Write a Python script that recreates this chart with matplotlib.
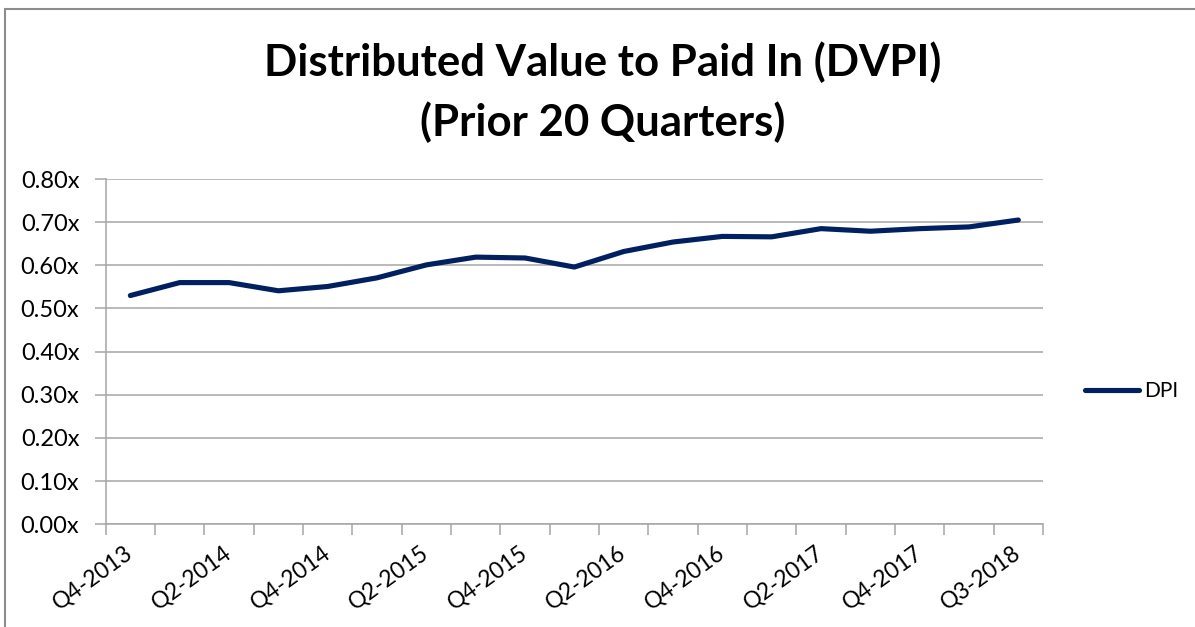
import matplotlib
matplotlib.use("Agg")
import matplotlib.pyplot as plt
from matplotlib.patches import Rectangle

quarters = ["Q4-2013", "Q1-2014", "Q2-2014", "Q3-2014", "Q4-2014", "Q1-2015",
            "Q2-2015", "Q3-2015", "Q4-2015", "Q1-2016", "Q2-2016", "Q3-2016",
            "Q4-2016", "Q1-2017", "Q2-2017", "Q3-2017", "Q4-2017", "Q1-2018",
            "Q3-2018"]
dpi_values = [0.530, 0.560, 0.560, 0.541, 0.551, 0.571, 0.601, 0.619, 0.617,
              0.596, 0.632, 0.654, 0.667, 0.666, 0.685, 0.679, 0.685, 0.689,
              0.705]
y_ticks = [0.0, 0.1, 0.2, 0.3, 0.4, 0.5, 0.6, 0.7, 0.8]

plt.rcParams['font.family'] = ['Lato', 'DejaVu Sans']
W, H = 1195, 627
fig = plt.figure(figsize=(W / 100, H / 100), dpi=100)
ax = fig.add_axes([105.7 / W, 1 - 524.3 / H, (1043 - 105.7) / W, (524.3 - 179) / H])

navy = "#002060"
grid = "#a6a6a6"
n = len(quarters)
x = list(range(n))
line, = ax.plot(x, dpi_values, color=navy, lw=3.7, solid_capstyle='round',
                solid_joinstyle='round', label="DPI", zorder=3)

ax.set_xlim(-0.5, n - 0.5)
ax.set_ylim(0, 0.8)
ax.set_yticks(y_ticks)
ax.set_yticklabels([f"{v:.2f}x" for v in y_ticks], fontsize=17)
ax.grid(axis='y', color=grid, lw=1.1)
ax.set_axisbelow(True)

# category boundary tick marks
ax.set_xticks([i - 0.5 for i in range(n + 1)])
ax.set_xticklabels([])
ax.set_xticks(x[::2], minor=True)
ax.set_xticklabels(quarters[::2], minor=True, rotation=36, ha='right',
                   va='center', rotation_mode='anchor', fontsize=16.5)
ax.tick_params(axis='x', which='minor', length=0, pad=19)
ax.tick_params(axis='x', which='major', length=8, color=grid, width=1.1)
ax.tick_params(axis='y', length=8, color=grid, width=1.1, pad=11)

for s in ['top', 'right']:
    ax.spines[s].set_visible(False)
for s in ['left', 'bottom']:
    ax.spines[s].set_color(grid)
    ax.spines[s].set_linewidth(1.1)

fig.text(603 / W, 1 - 62 / H, "Distributed Value to Paid In (DVPI)",
         ha='center', va='center', fontsize=31.5, fontweight='bold')
fig.text(603 / W, 1 - 122 / H, "(Prior 20 Quarters)",
         ha='center', va='center', fontsize=31.5, fontweight='bold')

fig.legend(handles=[line], loc='center left',
           bbox_to_anchor=(1066 / W, 1 - 391 / H), frameon=False,
           fontsize=15, handlelength=2.6, handletextpad=0.25)

fig.patches.append(Rectangle((4.5 / W, -0.1), 1.2, 1 - 8.5 / H + 0.1,
                             transform=fig.transFigure, fill=False,
                             edgecolor="#8c8c8c", lw=1.5))

fig.savefig("out.png", dpi=100)
